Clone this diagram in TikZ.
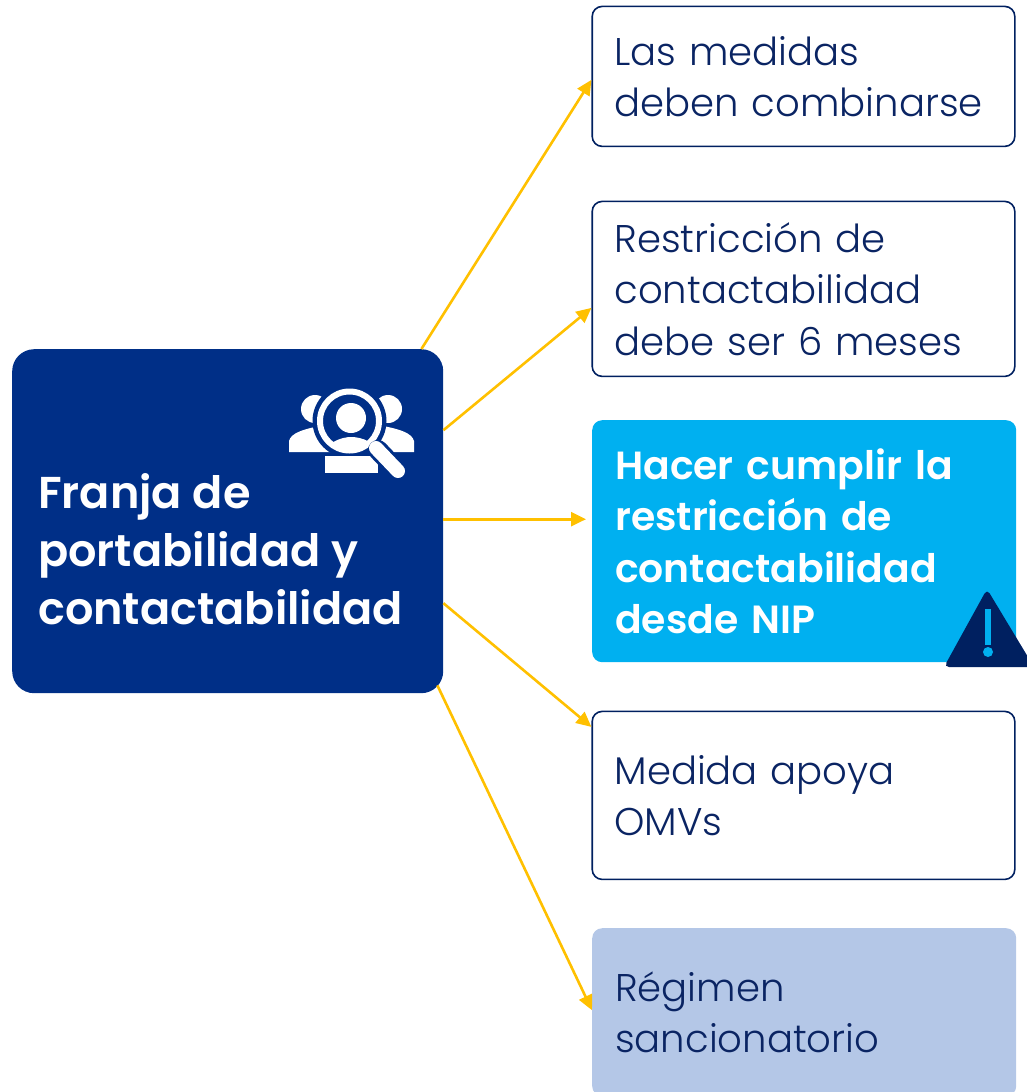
\documentclass[tikz,border=0pt]{standalone}
\usepackage{fontspec}
\setmainfont{Poppins}[UprightFont=* Light,BoldFont=* SemiBold]
\usetikzlibrary{arrows.meta,calc}
\definecolor{navy}{HTML}{002F87}
\definecolor{ink}{HTML}{0A2463}
\definecolor{deep}{HTML}{002060}
\definecolor{sky}{HTML}{00B0F0}
\definecolor{pale}{HTML}{B4C7E7}
\definecolor{amber}{HTML}{FFC000}
\tikzset{
  x=1pt,y=-1pt,
  box/.style={rounded corners=10pt,minimum width=424pt,text width=378pt,inner sep=0pt,align=left,anchor=north west,text=ink,font=\fontsize{38.6}{51.5}\selectfont},
  outlined/.style={box,draw=deep,line width=1.6pt,fill=white,minimum width=422.6pt},
  link/.style={draw=amber,line width=2.6pt,-{Triangle[length=15pt,width=14pt]}},
  ico/.style={fill=white,draw=none},
}
\begin{document}
\begin{tikzpicture}
\useasboundingbox (0,0) rectangle (1026,1092);
\begin{scope}
\clip (0,0) rectangle (1026,1092);
\node[rounded corners=22pt,fill=navy,minimum width=431pt,minimum height=344pt,anchor=north west,inner sep=0pt] (main) at (12,349) {};
\node[anchor=north west,inner sep=0pt,text=white,align=left,font=\bfseries\fontsize{44.6}{58}\selectfont] (title) at (38,473) {Franja de\\portabilidad y\\contactabilidad};
\node[outlined,minimum height=140pt] (b1) at (591.4,5.6) {Las medidas\\\mbox{deben combinarse}};
\node[outlined,minimum height=175pt] (b2) at (591.4,200.6) {Restricción de\\contactabilidad\\debe ser 6 meses};
\node[box,fill=sky,minimum height=242pt,text=white,font=\bfseries\fontsize{39.3}{51.5}\selectfont] (b3) at (592,420) {Hacer cumplir la\\restricción de\\contactabilidad\\desde NIP};
\node[outlined,minimum height=168pt] (b4) at (591.4,710.6) {Medida apoya\\OMVs};
\node[box,fill=pale,minimum height=168pt] (b5) at (592,928) {Régimen\\sancionatorio};
\end{scope}
\draw[link] ([xshift=-22pt]main.north east) -- ([yshift=-3.5pt]b1.west);
\draw[link] ([yshift=91pt]main.east) -- ([yshift=-19pt]b2.west);
\draw[link,shorten >=6pt] ([yshift=2pt]main.east) -- ([yshift=22pt]b3.west);
\draw[link] ([yshift=-82pt]main.east) -- ([yshift=68.5pt]b4.west);
\draw[link] ([xshift=-6pt,yshift=8pt]main.south east) -- ([yshift=2pt]b5.west);
% magnifier icon
\fill[ico] (315,409) circle (14);
\fill[ico] (388,409) circle (14);
\fill[ico] (289,452) -- (289,441) .. controls (291,433) and (303,429) .. (325,425) -- (340,452) -- cycle;
\fill[ico] (414,452) -- (414,441) .. controls (412,433) and (400,429) .. (378,425) -- (362,452) -- cycle;
\fill[navy] (349.5,421) circle (37);
\fill[ico] (325,473) -- (325,456) -- (378,456) -- (378,473) -- cycle;
\begin{scope}
\clip (349.5,421) circle (28);
\fill[ico] (351,418) circle (15);
\fill[ico] (318,460) .. controls (325,442) and (342,437) .. (351,437) .. controls (362,437) and (377,442) .. (384,460) -- cycle;
\end{scope}
\draw[white,line width=6pt] (349.5,421) circle (29.5);
\draw[navy,line width=20pt,line cap=round] (378,450) -- (397,470);
\draw[white,line width=14pt,line cap=round] (376,448) -- (398,471);
\draw[white,line width=6pt] (372,444) -- (378,450);
% warning sign
\fill[deep,rounded corners=5pt] (987,589) -- (1034,667) -- (944,667) -- cycle;
\fill[sky] (985,609) rectangle (991,645);
\fill[sky] (988,652) circle (5);
\end{tikzpicture}
\end{document}
